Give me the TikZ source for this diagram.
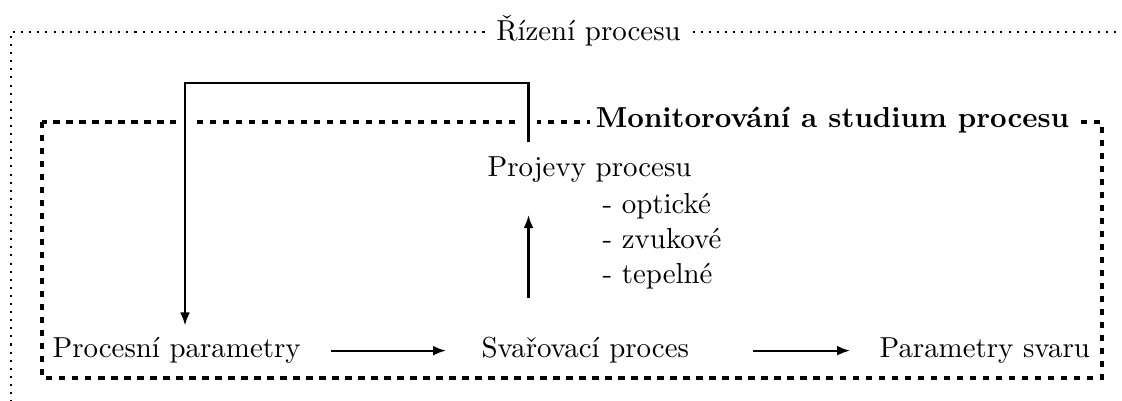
\documentclass[tikz,border=0pt]{standalone}
\usetikzlibrary{arrows.meta}
\begin{document}
\begin{tikzpicture}[x=0.346pt,y=-0.346pt,
  outerframe/.style={line width=0.7pt, dash pattern=on 0.7pt off 2.1pt},
  innerframe/.style={line width=1.3pt, dash pattern=on 2.2pt off 2.3pt},
  lbl/.style={inner sep=0pt},
  bottomlbl/.style={lbl, text height=7pt, text depth=2.6pt},
  ttl/.style={fill=white, inner sep=2pt},
  conn/.style={line width=0.75pt},
  arr/.style={conn, -{Latex[length=4.5pt,width=3.4pt]}},
  gapline/.style={white, line width=6pt}]
\useasboundingbox (0,0) rectangle (1122,400);
\clip (0,0) rectangle (1122,400);
% outer frame (cropped by the picture border)
\draw[outerframe] (1140,32) -- (11,32) -- (11,420);
\node[ttl, anchor=base] (rizeni) at (588.5,40) {Řízení procesu};
% inner frame
\draw[innerframe] (42,122) rectangle (1102,378);
\node[ttl, anchor=base] (monit) at (832.5,127) {\bfseries Monitorování a studium procesu};
\draw[gapline] (185,116) -- (185,128);
\draw[gapline] (528.5,116) -- (528.5,128);
% nodes
\node[bottomlbl, anchor=base west] (pp) at (52,357) {Procesní parametry};
\node[bottomlbl, anchor=base west] (sp) at (481,357) {Svařovací proces};
\node[bottomlbl, anchor=base west] (ps) at (879,357) {Parametry svaru};
\node[lbl, anchor=base west] (pj) at (487,176) {Projevy procesu};
\node[lbl, anchor=base west, align=left] (list) at (602,283) {- optické\\- zvukové\\- tepelné};
% connectors
\coordinate (fx) at (528.5,83);
\coordinate (fl) at (185,83);
\coordinate (ux) at (528.5,215);
\draw[arr, shorten <=4.6pt, shorten >=3.7pt] (pj.north -| fx) -- (fx) -- (fl) -- (pp.north -| fl);
\draw[arr, shorten <=13.1pt] (sp.north -| ux) -- (ux);
\draw[arr, shorten <=10.4pt, shorten >=12.1pt] (pp.east) -- (sp.west);
\draw[arr, shorten <=22.1pt, shorten >=10pt] (sp.east) -- (ps.west);
\end{tikzpicture}
\end{document}
